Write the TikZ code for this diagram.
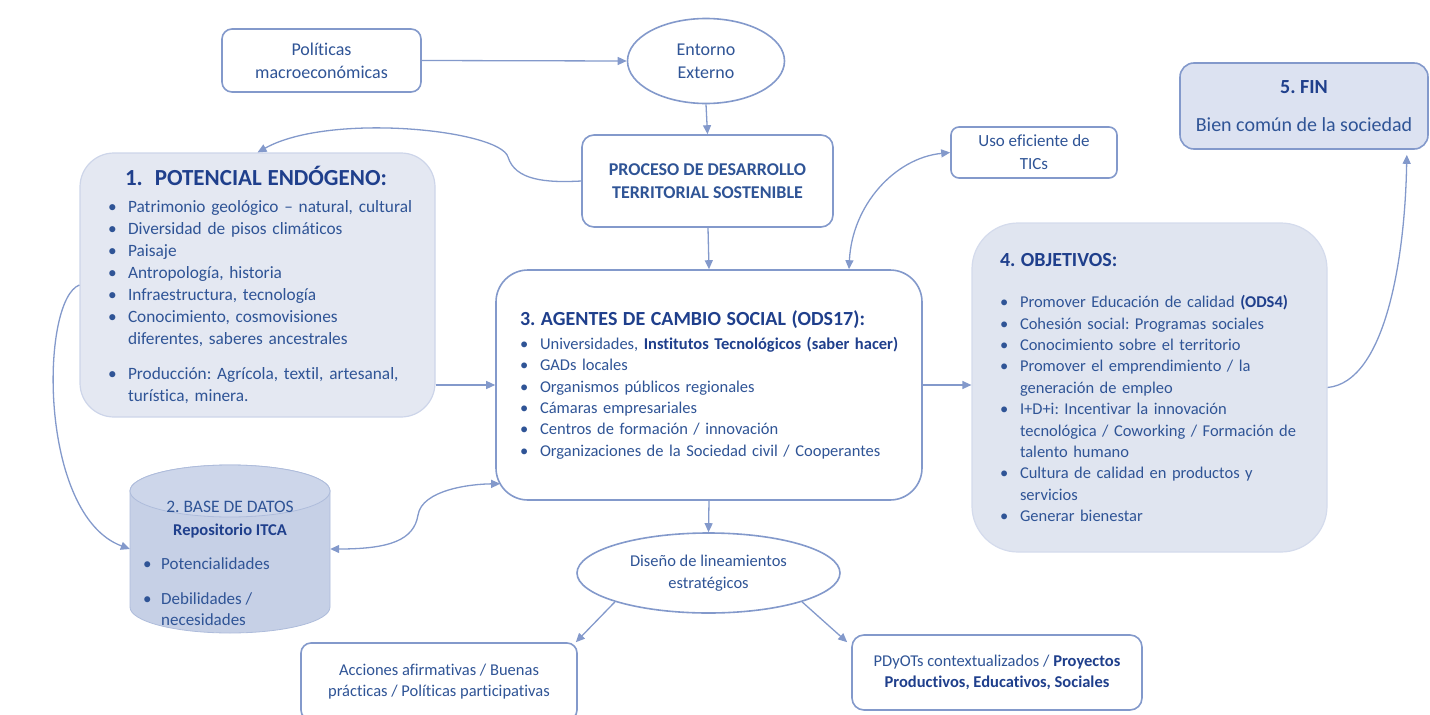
\documentclass[tikz,border=0pt]{standalone}
\usepackage{fontspec}
\setmainfont{Carlito}[Ligatures=NoCommon]
\usetikzlibrary{arrows.meta,shapes.geometric,calc}
\frenchspacing

\definecolor{txtblue}{HTML}{2F5496}
\definecolor{darkblue}{HTML}{1F3F8C}
\definecolor{lineblue}{HTML}{8399CB}
\definecolor{softfill}{HTML}{E4E8F2}
\definecolor{softedge}{HTML}{CDD5E9}
\definecolor{finfill}{HTML}{DCE2F1}
\definecolor{dbfill}{HTML}{C6D0E6}
\definecolor{dbtop}{HTML}{CDD6EA}
\definecolor{dbedge}{HTML}{AEBCDB}

% font sizes
\newcommand\boxfont{\fontsize{18}{23}\selectfont}
\newcommand\listfont{\fontsize{16.5}{21.4}\selectfont}
\newcommand\potfont{\fontsize{17.3}{22}\selectfont}
\newcommand\titlefont{\fontsize{20}{24}\selectfont\bfseries\color{darkblue}}
% list items
\newcommand\itm[1]{\makebox[20pt][l]{\textbullet}\mbox{#1}}
\newcommand\cont[1]{\hspace*{20pt}\mbox{#1}}
\newcommand\emphb[1]{{\bfseries\color{darkblue}#1}}

\tikzset{
  roundbox/.style={draw=lineblue, line width=1.6pt, fill=white, text=txtblue,
    align=center, inner sep=0pt, font=\boxfont},
  softbox/.style={draw=softedge, line width=1.2pt, fill=softfill, text=txtblue,
    align=left, inner sep=0pt},
  ovalbox/.style={ellipse, draw=lineblue, line width=1.6pt, fill=white, text=txtblue,
    align=center, inner sep=0pt, font=\boxfont},
  link/.style={draw=lineblue, line width=1.3pt, -{Triangle[length=9pt,width=8pt]}},
  twoway/.style={link, {Triangle[length=9pt,width=8pt]}-{Triangle[length=9pt,width=8pt]}},
}

\begin{document}
\begin{tikzpicture}[x=1pt,y=-1pt]
\useasboundingbox (0,0) rectangle (1430,715);

% upper row
\node[roundbox, rounded corners=10pt, minimum width=199pt, minimum height=63pt]
  (pol) at (321.5,60.5) {Políticas\\macroeconómicas};
\node[ovalbox, minimum width=157pt, minimum height=85pt]
  (ent) at (706,61) {Entorno\\Externo};
\node[roundbox, rounded corners=12pt, minimum width=251pt, minimum height=92pt,
  font=\boxfont\bfseries\color{darkblue}]
  (proc) at (707.5,181) {PROCESO DE DESARROLLO\\TERRITORIAL SOSTENIBLE};
\node[roundbox, rounded corners=8pt, minimum width=166pt, minimum height=51pt,
  font=\fontsize{17}{23}\selectfont]
  (tic) at (1034,152.5) {Uso eficiente de\\TICs};
\node[roundbox, fill=finfill, rounded corners=14pt, minimum width=248pt, minimum height=86pt,
  font=\fontsize{20}{23}\selectfont]
  (fin) at (1304,106) {\emphb{5. FIN}\\[15pt]Bien común de la sociedad};

% 1. potencial endogeno
\node[softbox, rounded corners=34pt, minimum width=355pt, minimum height=264pt,
  text width=299pt, inner xsep=28pt, font=\potfont]
  (pot) at (257.5,285) {%
  {\fontsize{23}{26}\selectfont\bfseries\color{darkblue}\hspace*{17pt}1.\hspace{12pt}POTENCIAL ENDÓGENO:}\\[5pt]
  \itm{Patrimonio geológico – natural, cultural}\\
  \itm{Diversidad de pisos climáticos}\\
  \itm{Paisaje}\\
  \itm{Antropología, historia}\\
  \itm{Infraestructura, tecnología}\\
  \itm{Conocimiento, cosmovisiones}\\
  \cont{diferentes, saberes ancestrales}\\[13pt]
  \itm{Producción: Agrícola, textil, artesanal,}\\
  \cont{turística, minera.}};

% 3. agentes de cambio
\node[roundbox, rounded corners=32pt, minimum width=426pt, minimum height=230pt,
  align=left, text width=378pt, inner xsep=24pt, font=\listfont]
  (agt) at (709,385) {%
  {\titlefont 3. AGENTES DE CAMBIO SOCIAL (ODS17):}\\[2pt]
  \itm{Universidades, \emphb{Institutos Tecnológicos (saber hacer)}}\\
  \itm{GADs locales}\\
  \itm{Organismos públicos regionales}\\
  \itm{Cámaras empresariales}\\
  \itm{Centros de formación / innovación}\\
  \itm{Organizaciones de la Sociedad civil / Cooperantes}};

% 4. objetivos
\node[softbox, draw=softedge!70!softfill, fill=softfill!96!lineblue, rounded corners=46pt,
  minimum width=355pt, minimum height=329pt, text width=299pt, inner xsep=28pt, font=\listfont]
  (obj) at (1149.5,387.5) {%
  {\titlefont 4. OBJETIVOS:}\\[20pt]
  \itm{Promover Educación de calidad \emphb{(ODS4)}}\\
  \itm{Cohesión social: Programas sociales}\\
  \itm{Conocimiento sobre el territorio}\\
  \itm{Promover el emprendimiento / la}\\
  \cont{generación de empleo}\\
  \itm{I+D+i: Incentivar la innovación}\\
  \cont{tecnológica / Coworking / Formación de}\\
  \cont{talento humano}\\
  \itm{Cultura de calidad en productos y}\\
  \cont{servicios}\\
  \itm{Generar bienestar}};

% 2. base de datos (cylinder)
\node[minimum width=200pt, minimum height=168pt, inner sep=0pt] (db) at (230,549) {};
\path[fill=dbfill, draw=dbedge, line width=0.8pt]
  (130,491) -- (130,607) arc[start angle=180, end angle=360, x radius=100pt, y radius=26pt]
  -- (330,491) arc[start angle=0, end angle=180, x radius=100pt, y radius=26pt] -- cycle;
\draw[fill=dbtop, draw=dbedge, line width=0.8pt] (230,491) ellipse[x radius=100pt, y radius=26pt];
\node[text=txtblue, align=center, inner sep=0pt, font=\fontsize{17.5}{23}\selectfont]
  (dbhead) at (230,520) {2. BASE DE DATOS\\\emphb{\fontsize{16.5}{23}\selectfont Repositorio ITCA}};
\node[text=txtblue, align=left, inner sep=0pt, anchor=north west, font=\fontsize{17}{21}\selectfont]
  (dblist) at (143,557) {%
  \makebox[18pt][l]{\textbullet}Potencialidades\\[14pt]
  \makebox[18pt][l]{\textbullet}Debilidades /\\
  \hspace*{18pt}necesidades};

% lower part
\node[ovalbox, minimum width=263pt, minimum height=80pt, font=\listfont]
  (dis) at (708.5,573) {Diseño de lineamientos\\estratégicos};
\node[roundbox, rounded corners=10pt, minimum width=276pt, minimum height=77pt, font=\listfont]
  (acc) at (439,681.5) {Acciones afirmativas / Buenas\\prácticas / Políticas participativas};
\node[roundbox, rounded corners=12pt, minimum width=290pt, minimum height=75pt, font=\listfont]
  (pdy) at (997,672.5) {PDyOTs contextualizados / \emphb{Proyectos}\\\emphb{Productivos, Educativos, Sociales}};

% connectors
\draw[link] (pol.east) -- (ent.west);
\draw[link] (ent.south) -- (proc.north);
\draw[link] ($(proc.south)+(0.5,0)$) -- (agt.north);
\draw[link] (proc.west) .. controls (545,183) and (515,180) .. (508,157)
  .. controls (500,130) and (330,112) .. (pot.north);
\draw[link] (pot.east |- agt.west) -- (agt.west);
\draw[link] (agt.east) -- (agt.east -| obj.west);
\draw[link] (agt.south) -- (dis.north);
\draw[link] (dis.south west) -- ($(acc.north east)+(-2,0)$);
\draw[link] (dis.south east) -- ($(pdy.north west)+(-4,8)$);
\draw[twoway] ($(agt.north)+(140,0)$) .. controls (852,205) and (895,158) .. (tic.west);
\draw[link] (pot.west) .. controls (40,300) and (38,515) .. (db.west);
\draw[twoway] (db.east) .. controls (390,549) and (414,540) .. (418,515)
  .. controls (422,490) and (470,484) .. ($(agt.south west)+(5,-17)$);
\draw[link] (obj.east) .. controls (1385,382) and (1405,260) .. ($(fin.south east)+(-22,5)$);
\end{tikzpicture}
\end{document}
